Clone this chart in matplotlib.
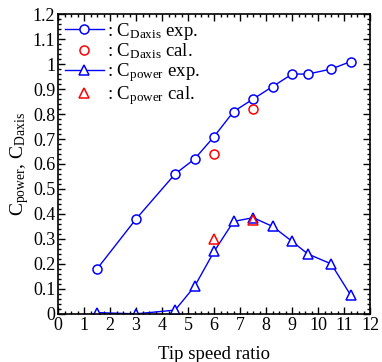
import numpy as np
import matplotlib.pyplot as plt
from matplotlib.ticker import MultipleLocator

plt.rcParams['font.family'] = ['Liberation Serif', 'DejaVu Serif']
plt.rcParams['mathtext.fontset'] = 'custom'
plt.rcParams['mathtext.rm'] = 'Liberation Serif'
plt.rcParams['mathtext.it'] = 'Liberation Serif'

# data
tsr = [1.5, 3.0, 4.5, 5.25, 6.0, 6.75, 7.5, 8.25, 9.0, 9.6, 10.5, 11.25]
cd_exp = [0.18, 0.38, 0.56, 0.62, 0.71, 0.81, 0.86, 0.91, 0.96, 0.96, 0.98, 1.01]
cp_exp = [0.005, 0.0, 0.015, 0.11, 0.25, 0.37, 0.385, 0.35, 0.29, 0.24, 0.20, 0.075]
tsr_cal = [6.0, 7.5]
cd_cal = [0.64, 0.82]
cp_cal = [0.30, 0.375]

fig = plt.figure(figsize=(3.82, 3.62), dpi=100)
ax = fig.add_axes([0.152, 0.133, 0.817, 0.828])

ax.plot(tsr, cd_exp, '-o', color='blue', lw=1, ms=6.5, mfc='white', mew=1.1,
        label=r': C$_{\mathrm{Daxis}}$ exp.')
ax.plot(tsr_cal, cd_cal, 'o', color='red', ms=6.5, mfc='none', mew=1.1,
        label=r': C$_{\mathrm{Daxis}}$ cal.')
ax.plot(tsr, cp_exp, '-^', color='blue', lw=1, ms=6.5, mfc='white', mew=1.1,
        label=r': C$_{\mathrm{power}}$ exp.')
ax.plot(tsr_cal, cp_cal, '^', color='red', ms=6.5, mfc='none', mew=1.1,
        label=r': C$_{\mathrm{power}}$ cal.')

ax.set_xlim(0, 12)
ax.set_ylim(0, 1.2)
ax.xaxis.set_major_locator(MultipleLocator(1))
ax.xaxis.set_minor_locator(MultipleLocator(0.25))
ax.yaxis.set_minor_locator(MultipleLocator(0.02))
ax.set_yticks(np.arange(0, 1.21, 0.1))
ax.set_yticklabels(['0', '0.1', '0.2', '0.3', '0.4', '0.5', '0.6', '0.7',
                    '0.8', '0.9', '1', '1.1', '1.2'])
ax.tick_params(which='both', direction='in', top=True, right=True,
               labelsize=13, pad=2)
ax.tick_params(which='major', length=5, width=1)
ax.tick_params(which='minor', length=2.5, width=1)
for s in ax.spines.values():
    s.set_linewidth(1.2)

ax.set_xlabel('Tip speed ratio', fontsize=13.5, labelpad=9)
ax.set_ylabel(r'C$_{\mathrm{power}}$, C$_{\mathrm{Daxis}}$', fontsize=14, labelpad=1)

ax.legend(loc='upper left', frameon=False, fontsize=13.5, handlelength=2.1,
          handletextpad=0.15, labelspacing=0.0, borderaxespad=0.2,
          borderpad=0.15)

fig.savefig('out.png', dpi=100)
